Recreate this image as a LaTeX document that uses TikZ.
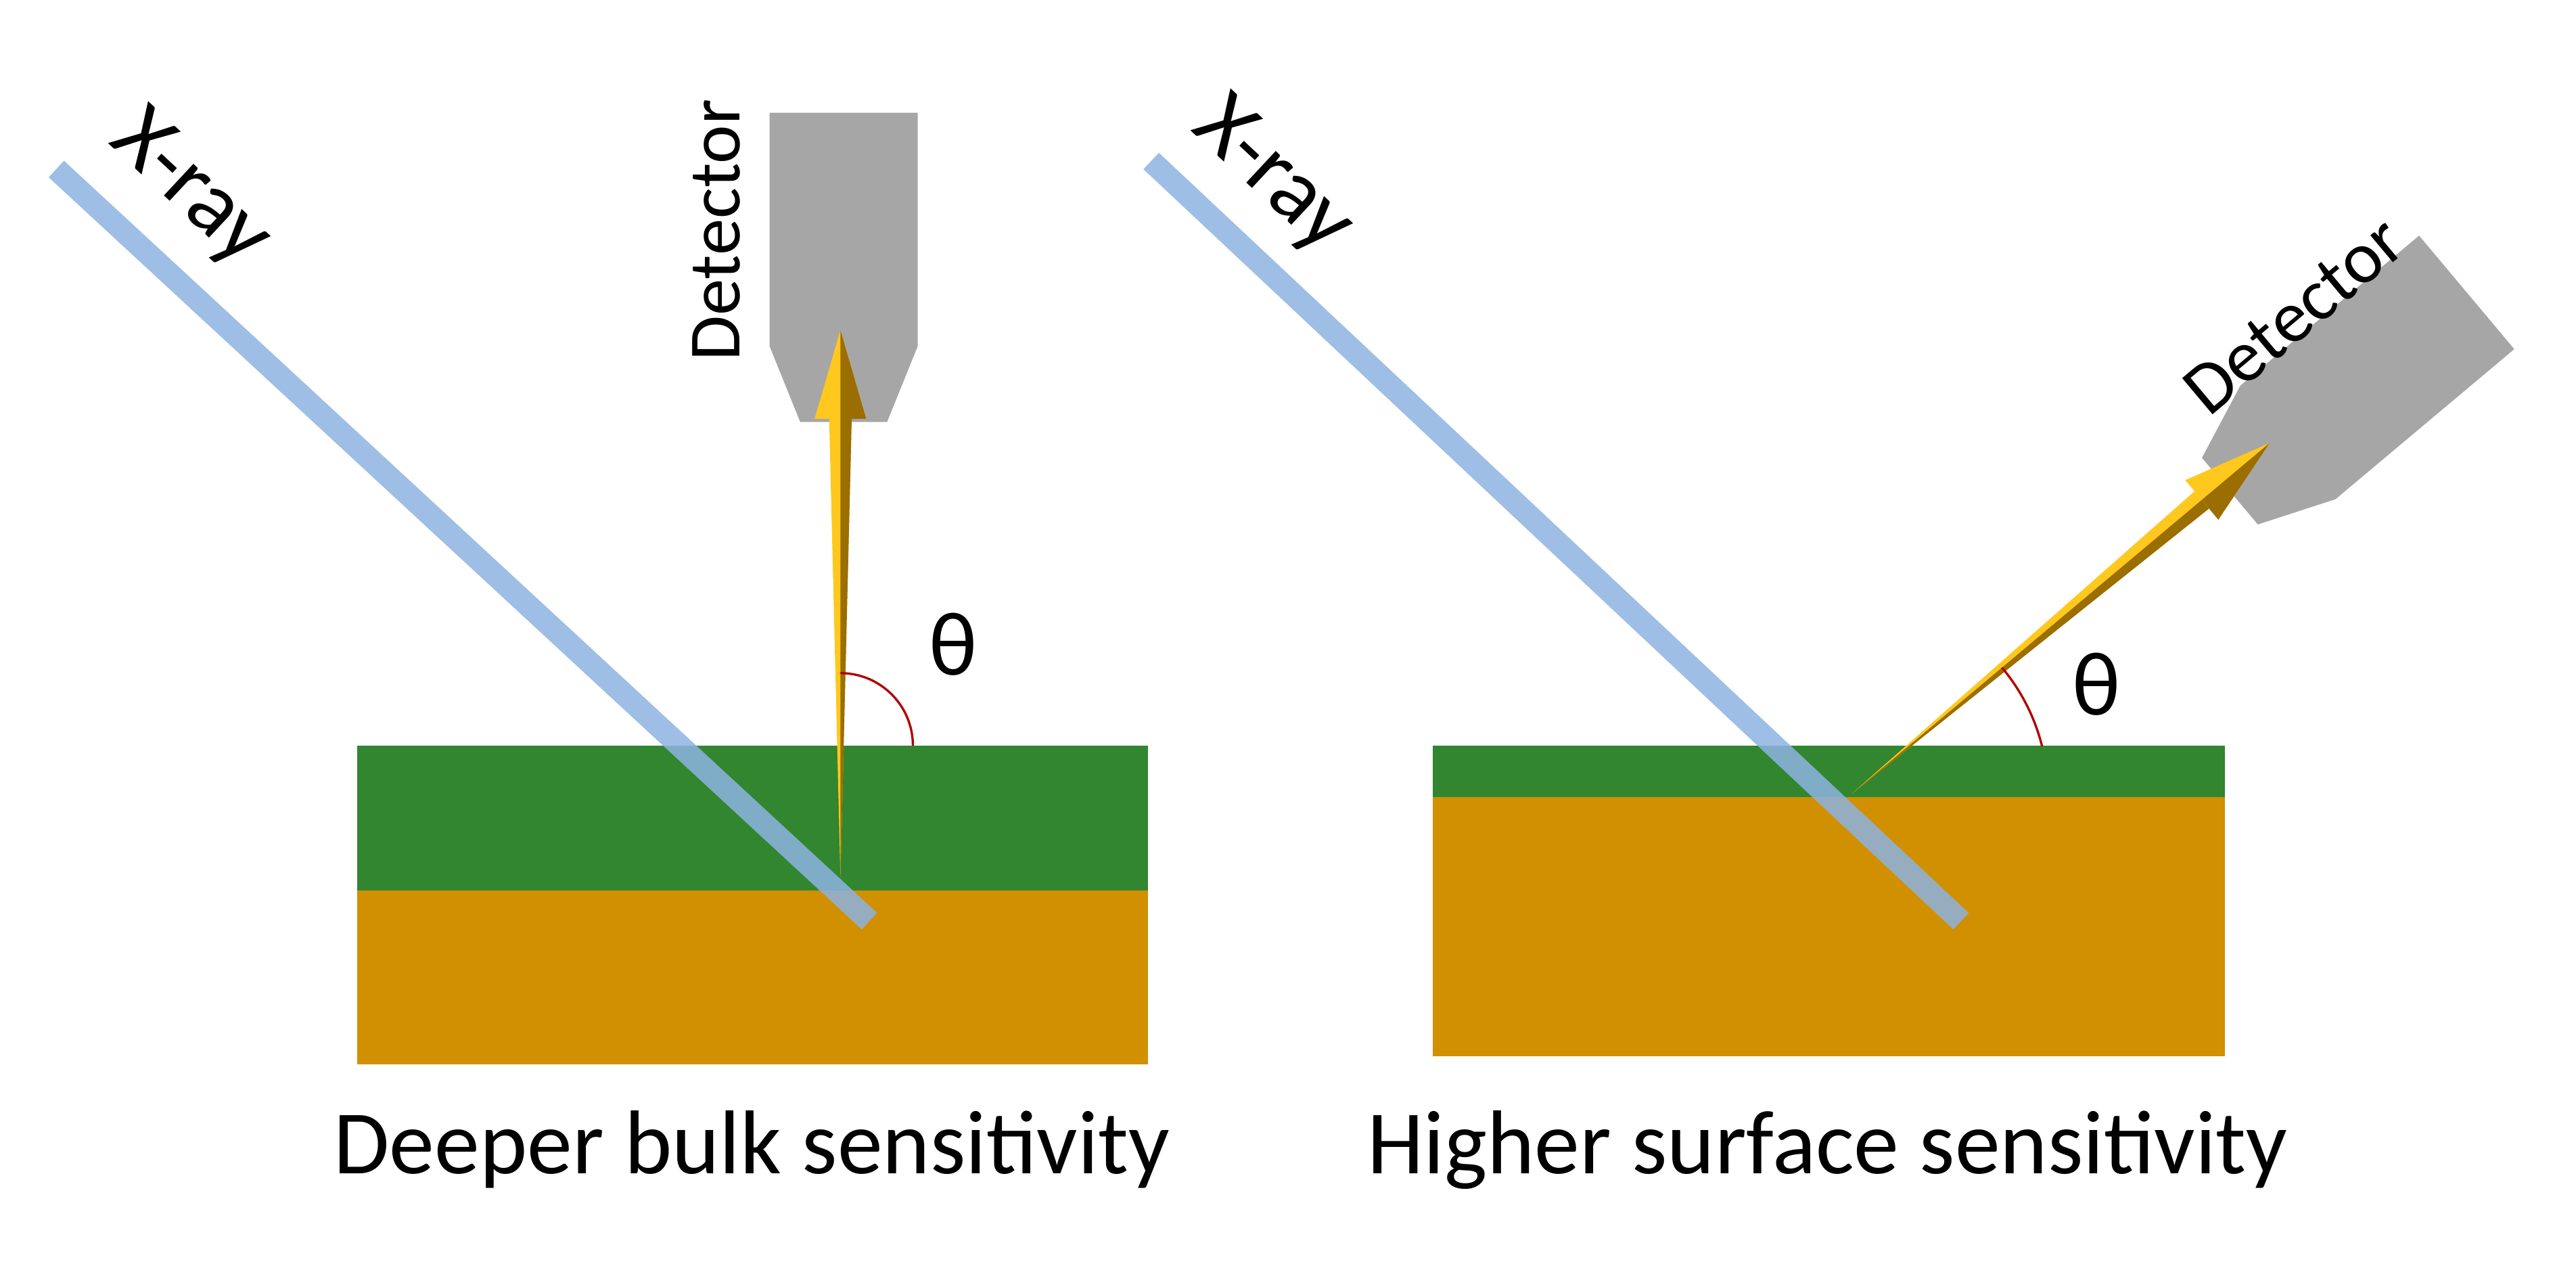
\documentclass[tikz,border=0pt]{standalone}
\usepackage{fontspec}
\setmainfont{Carlito}
\definecolor{beamblue}{HTML}{8DB3E2}
\definecolor{layergreen}{HTML}{31862F}
\definecolor{bulkorange}{HTML}{D09000}
\definecolor{detgray}{HTML}{A6A6A6}
\definecolor{goldlt}{HTML}{FFC81E}
\definecolor{golddk}{HTML}{9A6E00}
% detector body, narrow end at the origin, pointing along +x
\newcommand\detbody{\fill[detgray] (0,-27) -- (47,-46) -- (192,-46) -- (192,46) -- (47,46) -- (0,27) -- cycle;}
% golden arrow of length #1 along +x
\newcommand\goldarrow[1]{%
  \fill[goldlt] (0,0) -- (#1-55,7) -- (#1-55,-7) -- cycle;
  \fill[golddk] (0,0) -- (#1-55,-7) -- (#1-55,0) -- cycle;
  \fill[goldlt] (#1-55,16) -- (#1,0) -- (#1-55,-16) -- cycle;
  \fill[golddk] (#1-55,-16) -- (#1,0) -- (#1-55,0) -- cycle;}
\begin{document}
\begin{tikzpicture}[x=0.01cm,y=0.01cm,
  beam/.style={beamblue,line width=0.14cm,opacity=.85},
  lbl/.style={font=\fontsize{13}{15}\selectfont},
  big/.style={font=\fontsize{16}{18}\selectfont},
  angle/.style={red!70!black,line width=0.4pt}]
  \useasboundingbox (0,0) rectangle (1600,786);
  % Left panel
  \fill[bulkorange] (222,125) rectangle (713,233);
  \fill[layergreen] (222,233) rectangle (713,323);
  \begin{scope}[shift={(524,524)},rotate=90]\detbody\end{scope}
  \draw[beam] (35,681) -- (540,214);
  \begin{scope}[shift={(522,241)},rotate=90]\goldarrow{340}\end{scope}
  \draw[angle] (567,323) arc (0:90:45);
  \node[big] (thetaL) at (592,386) {θ};
  \node[big,rotate=-43] (xrayL) at (118,668) {X-ray};
  \node[lbl,rotate=90] (detL) at (445,643) {Detector};
  \node[big] (capL) at (467,72) {Deeper bulk sensitivity};
  % Right panel
  \fill[bulkorange] (890,130) rectangle (1382,291);
  \fill[layergreen] (890,291) rectangle (1382,323);
  \begin{scope}[shift={(1385,481)},rotate=40]\detbody\end{scope}
  \draw[beam] (715,686) -- (1218,214);
  \begin{scope}[shift={(1150,293)},rotate=40]\goldarrow{339}\end{scope}
  \draw[angle] (1150,293) ++(14:122) arc (14:40:122);
  \node[big] (thetaR) at (1302,361) {θ};
  \node[big,rotate=-43] (xrayR) at (790,676) {X-ray};
  \node[lbl,rotate=40] (detR) at (1425,590) {Detector};
  \node[big] (capR) at (1135,72) {Higher surface sensitivity};
\end{tikzpicture}
\end{document}
